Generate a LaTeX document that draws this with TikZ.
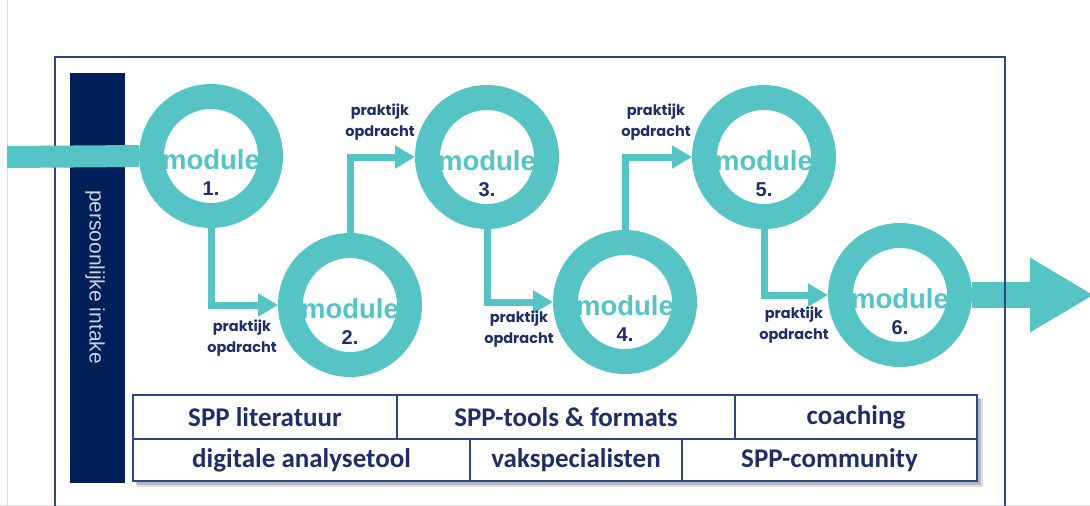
\documentclass[tikz,border=0pt]{standalone}
\usepackage{fontspec}
\usetikzlibrary{arrows.meta,calc}
\newfontfamily\arialf{Liberation Sans}
\newfontfamily\popf{Poppins}
\newfontfamily\calf{Carlito}
\definecolor{tealc}{RGB}{86,196,196}
\definecolor{navybar}{RGB}{0,30,88}
\definecolor{framec}{RGB}{45,72,132}
\definecolor{txtnavy}{RGB}{31,46,100}
\definecolor{greyline}{RGB}{218,218,218}
\definecolor{bartext}{RGB}{205,210,222}
\tikzset{
  ring/.style={circle,draw=tealc,line width=25pt,minimum size=119pt,inner sep=0pt,fill=white},
  modtxt/.style={text=tealc,font=\arialf\bfseries\fontsize{27.5}{30}\selectfont,inner sep=0pt},
  numtxt/.style={text=txtnavy,font=\arialf\bfseries\fontsize{20}{22}\selectfont,inner sep=0pt},
  praktxt/.style={text=txtnavy,font=\popf\bfseries\fontsize{14.5}{21}\selectfont,align=center,inner sep=0pt},
  conn/.style={draw=tealc,line width=7pt,-{Triangle[length=20pt,width=22pt]}},
  cell/.style={rectangle,draw=framec,line width=2.5pt,fill=white,inner sep=0pt,text=txtnavy,font=\calf\bfseries\fontsize{27}{30}\selectfont},
  framel/.style={draw=framec,line width=2.8pt}
}
\begin{document}
\begin{tikzpicture}[x=1pt,y=-1pt]
\useasboundingbox (0,0) rectangle (1090,506);
% faint page lines
\draw[greyline,line width=1pt] (7,0) -- (7,506);
\draw[greyline,line width=1pt] (0,505) -- (1090,505);
% frame
\draw[framel] (55,512) -- (55,57) -- (1005,57) -- (1005,512);
% navy bar
\node[fill=navybar,minimum width=55pt,minimum height=410pt,inner sep=0pt] (bar) at (97.5,278) {};
\node[rotate=-90,text=bartext,font=\arialf\fontsize{21}{24}\selectfont,inner sep=0pt] (bartxt) at (95,277) {persoonlijke intake};
% rings
\node[ring] (m1) at (211,156) {};
\node[ring] (m2) at (350,305) {};
\node[ring] (m3) at (487,157) {};
\node[ring] (m4) at (625,302) {};
\node[ring] (m5) at (764,157) {};
\node[ring] (m6) at (900,295) {};
% input band
\coordinate (in) at (7,157);
\draw[tealc,line width=22pt] (in) -- (m1.west);
% output arrow
\coordinate (out) at (1094,295);
\draw[tealc,line width=26pt,-{Triangle[length=64pt,width=70pt]}] (m6.east) -- (out);
\draw[framel] (1005,57) -- (1005,512);
% connectors
\draw[conn] (m1.south) |- (m2.west);
\draw[conn] (m2.north) |- (m3.west);
\draw[conn] (m3.south) |- (m4.west);
\draw[conn] (m4.north) |- (m5.west);
\draw[conn] (m5.south) |- (m6.west);
% module texts
\foreach \i in {1,...,6}{
  \node[modtxt] (mt\i) at ($(m\i)+(0,4)$) {module};
  \node[numtxt] (mn\i) at ($(m\i)+(0,33)$) {\i.};
}
% praktijk labels
\node[praktxt] (p2) at (242,338) {praktijk\\opdracht};
\node[praktxt] (p3) at (380,122) {praktijk\\opdracht};
\node[praktxt] (p4) at (519,329) {praktijk\\opdracht};
\node[praktxt] (p5) at (656,122) {praktijk\\opdracht};
\node[praktxt] (p6) at (794,325) {praktijk\\opdracht};
% table shadow
\fill[black,opacity=0.18] (136,398) rectangle (981,485);
\fill[black,opacity=0.12] (137,399) rectangle (983,487);
% table cells
\node[cell,minimum width=264pt,minimum height=44pt] (c1) at (265,417) {SPP literatuur};
\node[cell,minimum width=338pt,minimum height=44pt] (c2) at (566,417) {SPP-tools \& formats};
\node[cell,minimum width=242pt,minimum height=44pt] (c3) at (856,417) {coaching};
\node[cell,minimum width=337pt,minimum height=42pt] (d1) at (301.5,460) {digitale analysetool};
\node[cell,minimum width=212pt,minimum height=42pt] (d2) at (576,460) {vakspecialisten};
\node[cell,minimum width=295pt,minimum height=42pt] (d3) at (829.5,460) {SPP-community};
\end{tikzpicture}
\end{document}
